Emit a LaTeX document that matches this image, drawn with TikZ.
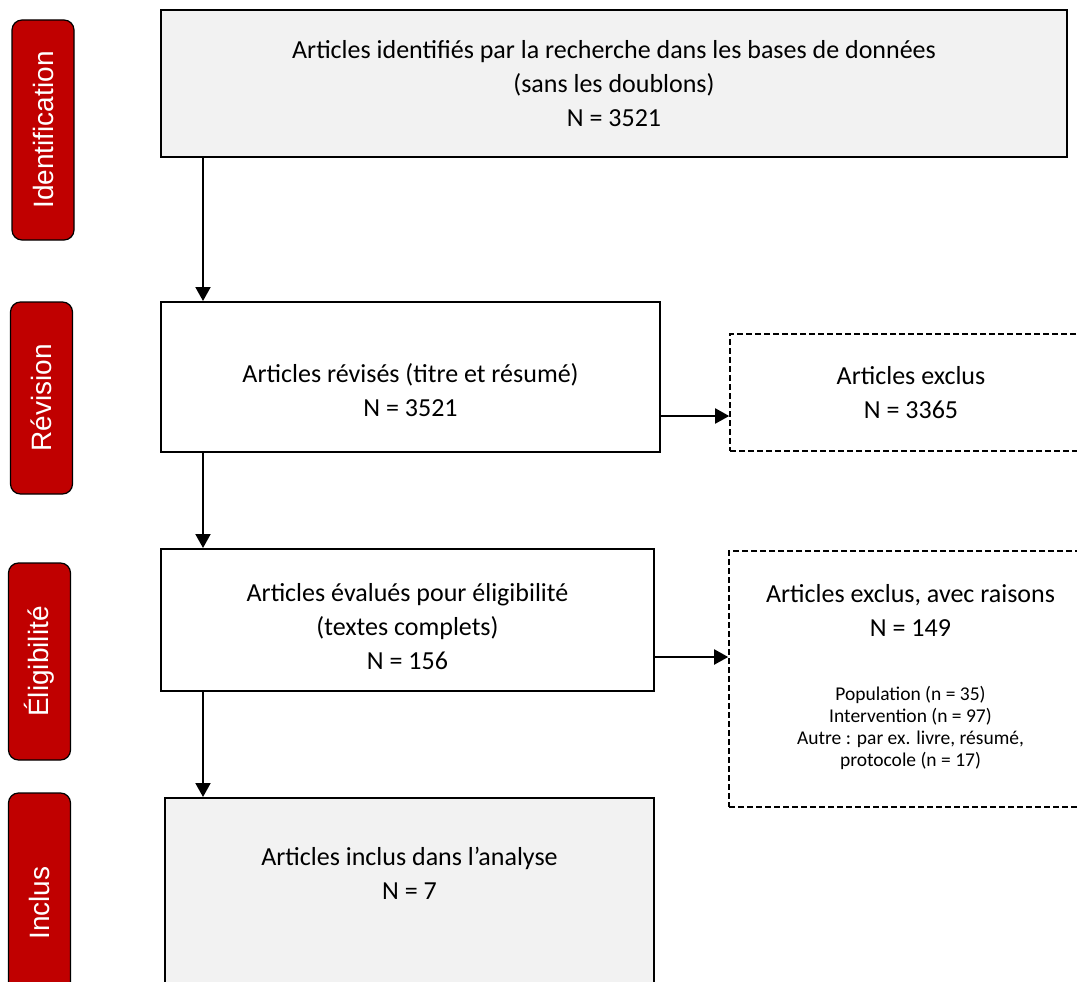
\documentclass[tikz,border=0pt]{standalone}
\usepackage{fontspec}
\setmainfont{Carlito}
\newfontfamily\tabfont{Liberation Sans}
\usetikzlibrary{arrows.meta}
\definecolor{tabred}{HTML}{C00000}
\definecolor{boxgray}{HTML}{F2F2F2}
\newcommand\smalltxt{\fontsize{19.5}{22}\selectfont}

\begin{document}
\begin{tikzpicture}[x=1pt,y=-1pt,
  tab/.style={draw=black, line width=1.2pt, fill=tabred, rounded corners=10pt, rotate=90,
    minimum height=62pt, inner sep=0pt, text=white, font=\tabfont\fontsize{28}{32}\selectfont},
  box/.style={draw=black, line width=2pt, align=center, inner sep=0pt,
    font=\fontsize{26}{34}\selectfont},
  excl/.style={box, line width=1.6pt, dash pattern=on 6pt off 3pt},
  arr/.style={line width=2pt, -{Triangle[length=14pt,width=15pt]}}]
\useasboundingbox (0,0) rectangle (1077,982);
\clip (0,0) rectangle (1077,982);

% Stage tabs
\node[tab, minimum width=220pt] (idt) at (43,130) {Identification};
\node[tab, minimum width=192pt] (rev) at (41.5,398) {Révision};
\node[tab, minimum width=197pt] (elig) at (39.5,661.5) {Éligibilité};
\node[tab, minimum width=220pt] (incl) at (39.5,903) {Inclus};

% Boxes
\node[box, fill=boxgray, minimum width=906pt, minimum height=147pt] (b1) at (614,83.5)
  {Articles identifiés par la recherche dans les bases de données\\(sans les doublons)\\N = 3521};
\node[box, minimum width=499pt, minimum height=150pt] (b2) at (410.5,377)
  {\rule{0pt}{46pt}Articles révisés (titre et résumé)\\N = 3521};
\node[box, minimum width=493pt, minimum height=142pt] (b3) at (407.5,620)
  {\rule{0pt}{31pt}Articles évalués pour éligibilité\\(textes complets)\\N = 156};
\node[box, fill=boxgray, minimum width=489pt, minimum height=220pt, anchor=north] (b4) at (409.5,797)
  {Articles inclus dans l’analyse\\N = 7\\[36pt]\mbox{}};

% Excluded
\node[excl, minimum width=362pt, minimum height=117pt] (ex1) at (911,392.5)
  {Articles exclus\\N = 3365};
\node[excl, minimum width=363pt, minimum height=256pt] (ex2) at (910.5,679)
  {Articles exclus, avec raisons\\N = 149\\[30pt]{\smalltxt\begin{tabular}[t]{@{}c@{}}Population (n = 35)\\Intervention (n = 97)\\Autre : par ex. livre, résumé,\\protocole (n = 17)\end{tabular}}};

% Arrows
\coordinate (spine) at (203,0);
\draw[arr] (b1.south -| spine) -- (b2.north -| spine);
\draw[arr] (b2.south -| spine) -- (b3.north -| spine);
\draw[arr] (b3.south -| spine) -- (b4.north -| spine);
\draw[arr] ([yshift=-39pt]b2.east) -- ([yshift=-39pt]b2.east -| ex1.west);
\draw[arr] ([yshift=-37pt]b3.east) -- ([yshift=-37pt]b3.east -| ex2.west);

\end{tikzpicture}
\end{document}
